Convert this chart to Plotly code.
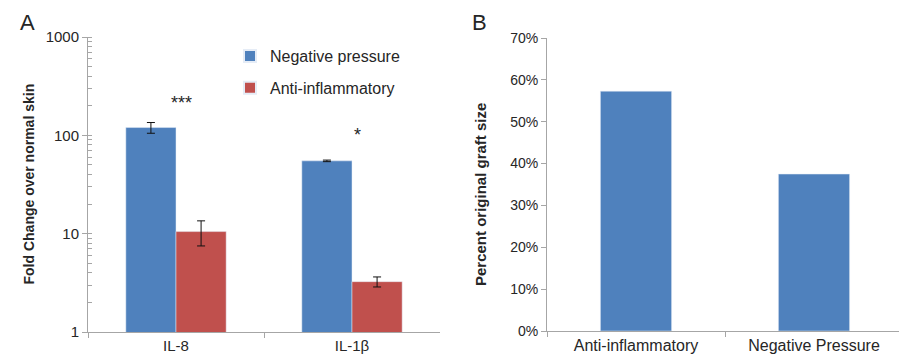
import math
import plotly.graph_objects as go

# ---- Panel A data ----
genes = ["IL-8", "IL-1β"]
neg_pressure = [120, 55]
neg_pressure_err = [15, 1]
anti_inflam = [10.5, 3.25]
anti_inflam_err = [3.0, 0.38]
sig_labels = ["***", "*"]
sig_y = [215, 100]
log_tick_vals = [1, 10, 100, 1000]
log_tick_text = ["1", "10", "100", "1000"]

# ---- Panel B data ----
treatments = ["Anti-inflammatory", "Negative Pressure"]
graft_size = [0.573, 0.375]

BLUE = "#4f81bd"
RED = "#c0504d"
AXIS = "#a6a6a6"
TXT = "#262626"
FONT = "Liberation Sans, Arial, sans-serif"

# the page body adds an 8px offset; size the figure to fill the rest of the window
OFF = 8
W, H = 907 - OFF, 360 - OFF


def px_x(p):
    return (p - OFF) / W


def px_y(p):
    return 1 - (p - OFF) / H


minor_vals = [m * 10 ** e for e in range(0, 3) for m in range(1, 11)]

fig = go.Figure()

fig.add_trace(go.Bar(
    x=genes, y=neg_pressure, name="Negative pressure", marker_color=BLUE,
    legendgroup="np",
    error_y=dict(type="data", array=neg_pressure_err, color="#111", thickness=1, width=4),
    xaxis="x", yaxis="y"))
fig.add_trace(go.Bar(
    x=genes, y=anti_inflam, name="Anti-inflammatory", marker_color=RED,
    legendgroup="ai",
    error_y=dict(type="data", array=anti_inflam_err, color="#111", thickness=1, width=4),
    xaxis="x", yaxis="y"))

fig.add_trace(go.Bar(
    x=treatments, y=graft_size, marker_color=BLUE, showlegend=False,
    xaxis="x2", yaxis="y2", width=0.4))

fig.update_layout(
    width=W, height=H,
    margin=dict(l=0, r=0, t=0, b=0, autoexpand=False),
    paper_bgcolor="white", plot_bgcolor="white",
    font=dict(family=FONT, color=TXT, size=13),
    barmode="group", bargap=0.43, bargroupgap=0,
    showlegend=True,
    legend=dict(x=px_x(230), y=px_y(39), xanchor="left", yanchor="top",
                font=dict(size=16, color=TXT), bgcolor="rgba(0,0,0,0)",
                tracegroupgap=8, itemsizing="constant"),
    xaxis=dict(domain=[px_x(88), px_x(440)], anchor="y", automargin=False,
               showline=True, linecolor=AXIS, linewidth=1,
               ticks="outside", tickson="boundaries", ticklen=5, tickcolor=AXIS,
               tickfont=dict(size=15, color=TXT), showgrid=False),
    yaxis=dict(domain=[px_y(332), px_y(37)], anchor="x", type="log", range=[0, 3],
               automargin=False,
               showline=True, linecolor=AXIS, linewidth=1,
               ticks="outside", ticklen=5, tickcolor=AXIS,
               tickvals=log_tick_vals, ticktext=log_tick_text,
               tickfont=dict(size=15, color=TXT), showgrid=False, zeroline=False,
               minor=dict(ticks="inside", ticklen=4, tickcolor=AXIS, showgrid=False,
                          tickvals=minor_vals)),
    xaxis2=dict(domain=[px_x(547), px_x(903)], anchor="y2", automargin=False,
                showline=True, linecolor=AXIS, linewidth=1,
                ticks="outside", tickson="boundaries", ticklen=5, tickcolor=AXIS,
                tickfont=dict(size=16, color=TXT), showgrid=False),
    yaxis2=dict(domain=[px_y(331), px_y(38)], anchor="x2", range=[0, 0.7], dtick=0.1,
                tickformat=".0%", automargin=False,
                showline=True, linecolor=AXIS, linewidth=1,
                ticks="outside", ticklen=5, tickcolor=AXIS,
                tickfont=dict(size=14, color=TXT), showgrid=False, zeroline=False),
)

# axis titles
fig.add_annotation(x=px_x(28), y=px_y(184.5), xref="paper", yref="paper",
                   xanchor="center", yanchor="middle",
                   text="<b>Fold Change over normal skin</b>", textangle=-90,
                   showarrow=False, font=dict(size=14, color=TXT))
fig.add_annotation(x=px_x(480), y=px_y(195), xref="paper", yref="paper",
                   xanchor="center", yanchor="middle",
                   text="<b>Percent original graft size</b>", textangle=-90,
                   showarrow=False, font=dict(size=15, color=TXT))

# significance markers
for g, s, yv in zip(genes, sig_labels, sig_y):
    fig.add_annotation(x=g, y=math.log10(yv), xref="x", yref="y",
                       xanchor="center", yanchor="middle",
                       text=s, showarrow=False, font=dict(size=18, color=TXT),
                       xshift=5)

# panel labels
fig.add_annotation(x=px_x(27), y=px_y(23), xref="paper", yref="paper", text="A",
                   xanchor="center", yanchor="middle",
                   showarrow=False, font=dict(size=22, color=TXT))
fig.add_annotation(x=px_x(479), y=px_y(23), xref="paper", yref="paper", text="B",
                   xanchor="center", yanchor="middle",
                   showarrow=False, font=dict(size=22, color=TXT))

fig.write_html("out.html")
